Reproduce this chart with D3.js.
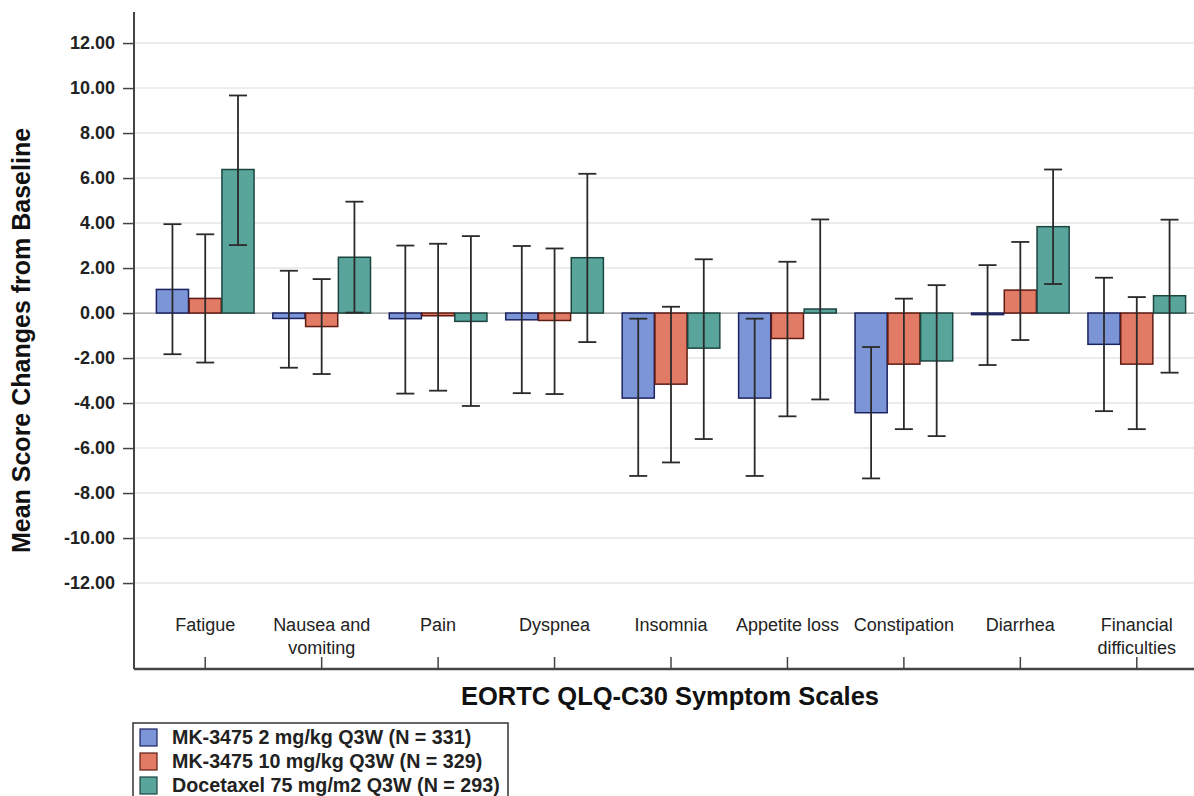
<!DOCTYPE html>
<html>
<head>
<meta charset="utf-8">
<script src="https://cdn.jsdelivr.net/npm/d3@7.9.0/dist/d3.min.js"></script>
<style>
  html, body { margin: 0; padding: 0; background: #fff; }
  svg { display: block; font-family: "Liberation Sans", Arial, sans-serif; }
</style>
</head>
<body>
<svg id="chart" width="1194" height="796"></svg>
<script>
// ===== DATA =====
const categories = ["Fatigue", "Nausea and vomiting", "Pain", "Dyspnea", "Insomnia",
  "Appetite loss", "Constipation", "Diarrhea", "Financial difficulties"];
const categoryLines = [["Fatigue"], ["Nausea and", "vomiting"], ["Pain"], ["Dyspnea"], ["Insomnia"],
  ["Appetite loss"], ["Constipation"], ["Diarrhea"], ["Financial", "difficulties"]];

const seriesNames = ["MK-3475 2 mg/kg Q3W (N = 331)", "MK-3475 10 mg/kg Q3W (N = 329)",
  "Docetaxel 75 mg/m2 Q3W (N = 293)"];

const means2 = [1.05, -0.24, -0.25, -0.30, -3.78, -3.78, -4.43, -0.07, -1.39];
const lower2 = [-1.83, -2.43, -3.58, -3.56, -7.24, -7.24, -7.35, -2.31, -4.36];
const upper2 = [3.95, 1.88, 3.00, 2.98, -0.25, -0.25, -1.51, 2.13, 1.57];

const means10 = [0.65, -0.60, -0.12, -0.33, -3.16, -1.13, -2.27, 1.02, -2.27];
const lower10 = [-2.20, -2.71, -3.45, -3.60, -6.64, -4.59, -5.16, -1.20, -5.16];
const upper10 = [3.50, 1.51, 3.08, 2.87, 0.28, 2.28, 0.64, 3.16, 0.71];

const meansDoc = [6.38, 2.48, -0.37, 2.46, -1.56, 0.18, -2.13, 3.84, 0.77];
const lowerDoc = [3.02, 0.02, -4.13, -1.29, -5.60, -3.84, -5.47, 1.29, -2.65];
const upperDoc = [9.67, 4.95, 3.42, 6.19, 2.39, 4.16, 1.24, 6.38, 4.15];

const yTicks = [-12, -10, -8, -6, -4, -2, 0, 2, 4, 6, 8, 10, 12];

const fills = ["#7b95d6", "#e27b66", "#5aa59b"];
const strokes = ["#1c2260", "#5e1b12", "#1d4540"];

// rows for the bars
const allMeans = [means2, means10, meansDoc];
const allLower = [lower2, lower10, lowerDoc];
const allUpper = [upper2, upper10, upperDoc];

const rows = [];
categories.forEach((c, i) => {
  seriesNames.forEach((s, j) => {
    rows.push({ cat: c, series: s, idx: j, mean: allMeans[j][i], lo: allLower[j][i], hi: allUpper[j][i] });
  });
});

// ===== SCALES =====
const svg = d3.select('#chart');
const axisX = 134, plotTop = 12, plotBottom = 669, plotRight = 1194;

const y = d3.scaleLinear().domain([-15.82, 13.38]).range([plotBottom, plotTop]);
const x0 = d3.scaleBand().domain(categories).range([147, 1195]).paddingInner(0.15).paddingOuter(0.075);
const x1 = d3.scaleBand().domain(seriesNames).range([0, x0.bandwidth()]).padding(0.02);

// gridlines
svg.append('g')
  .selectAll('line')
  .data(yTicks)
  .join('line')
  .attr('x1', axisX).attr('x2', plotRight)
  .attr('y1', d => y(d)).attr('y2', d => y(d))
  .attr('stroke', d => d === 0 ? '#9a9a9a' : '#e6e6e6')
  .attr('stroke-width', d => d === 0 ? 1.2 : 1.5);

// bars
svg.append('g')
  .selectAll('rect')
  .data(rows)
  .join('rect')
  .attr('x', d => x0(d.cat) + x1(d.series))
  .attr('y', d => y(Math.max(0, d.mean)))
  .attr('width', x1.bandwidth())
  .attr('height', d => Math.abs(y(d.mean) - y(0)))
  .attr('fill', d => fills[d.idx])
  .attr('stroke', d => strokes[d.idx])
  .attr('stroke-width', 1.5);

// error bars
const eb = svg.append('g').attr('stroke', '#2a2a2a').attr('stroke-width', 1.8).attr('fill', 'none');
const cx = d => x0(d.cat) + x1(d.series) + x1.bandwidth() / 2;
const capW = 9;
eb.selectAll('line.v').data(rows).join('line').attr('class', 'v')
  .attr('x1', cx).attr('x2', cx).attr('y1', d => y(d.hi)).attr('y2', d => y(d.lo));
eb.selectAll('line.t').data(rows).join('line').attr('class', 't')
  .attr('x1', d => cx(d) - capW).attr('x2', d => cx(d) + capW)
  .attr('y1', d => y(d.hi)).attr('y2', d => y(d.hi));
eb.selectAll('line.b').data(rows).join('line').attr('class', 'b')
  .attr('x1', d => cx(d) - capW).attr('x2', d => cx(d) + capW)
  .attr('y1', d => y(d.lo)).attr('y2', d => y(d.lo));

// y axis
const yAxis = svg.append('g')
  .attr('transform', `translate(${axisX},0)`)
  .call(d3.axisLeft(y).tickValues(yTicks).tickFormat(d => d.toFixed(2)).tickSize(11).tickPadding(8));
yAxis.select('.domain').remove();
yAxis.selectAll('line').attr('stroke', '#444').attr('stroke-width', 1.5);
yAxis.selectAll('text').attr('font-size', 18).attr('font-weight', 'bold').attr('fill', '#222');
svg.append('line')
  .attr('x1', axisX).attr('x2', axisX).attr('y1', plotTop).attr('y2', plotBottom)
  .attr('stroke', '#444').attr('stroke-width', 2);

// x axis
const xAxis = svg.append('g')
  .attr('transform', `translate(0,${plotBottom})`)
  .call(d3.axisBottom(x0).tickSize(-12).tickFormat(''));
xAxis.select('.domain').remove();
xAxis.selectAll('line').attr('stroke', '#444').attr('stroke-width', 1.5);
svg.append('line')
  .attr('x1', axisX).attr('x2', plotRight).attr('y1', plotBottom).attr('y2', plotBottom)
  .attr('stroke', '#444').attr('stroke-width', 2.5);

// category labels
const catText = svg.append('g')
  .selectAll('text')
  .data(categories)
  .join('text')
  .attr('text-anchor', 'middle')
  .attr('font-size', 18)
  .attr('fill', '#222');
catText.each(function (d, i) {
  d3.select(this).selectAll('tspan')
    .data(categoryLines[i])
    .join('tspan')
    .attr('x', x0(d) + x0.bandwidth() / 2)
    .attr('y', (_, k) => 631 + k * 23)
    .text(t => t);
});

// axis titles
svg.append('text')
  .attr('transform', `translate(30,${(plotTop + plotBottom) / 2}) rotate(-90)`)
  .attr('text-anchor', 'middle')
  .attr('font-size', 25).attr('font-weight', 'bold').attr('fill', '#111')
  .text('Mean Score Changes from Baseline');

svg.append('text')
  .attr('x', 670).attr('y', 705)
  .attr('text-anchor', 'middle')
  .attr('font-size', 25.5).attr('font-weight', 'bold').attr('fill', '#111')
  .text('EORTC QLQ-C30 Symptom Scales');

// legend
const legend = svg.append('g');
legend.append('rect')
  .attr('x', 133).attr('y', 723).attr('width', 375).attr('height', 90)
  .attr('fill', '#fff').attr('stroke', '#333').attr('stroke-width', 1.5);
const li = legend.selectAll('g.item')
  .data(seriesNames)
  .join('g').attr('class', 'item')
  .attr('transform', (_, i) => `translate(140,${729 + i * 24})`);
li.append('rect')
  .attr('width', 17).attr('height', 17)
  .attr('fill', (_, i) => fills[i])
  .attr('stroke', (_, i) => strokes[i]).attr('stroke-width', 1.2);
li.append('text')
  .attr('x', 32).attr('y', 15)
  .attr('font-size', 19.7).attr('font-weight', 'bold').attr('fill', '#222')
  .text(d => d);
</script>
</body>
</html>
